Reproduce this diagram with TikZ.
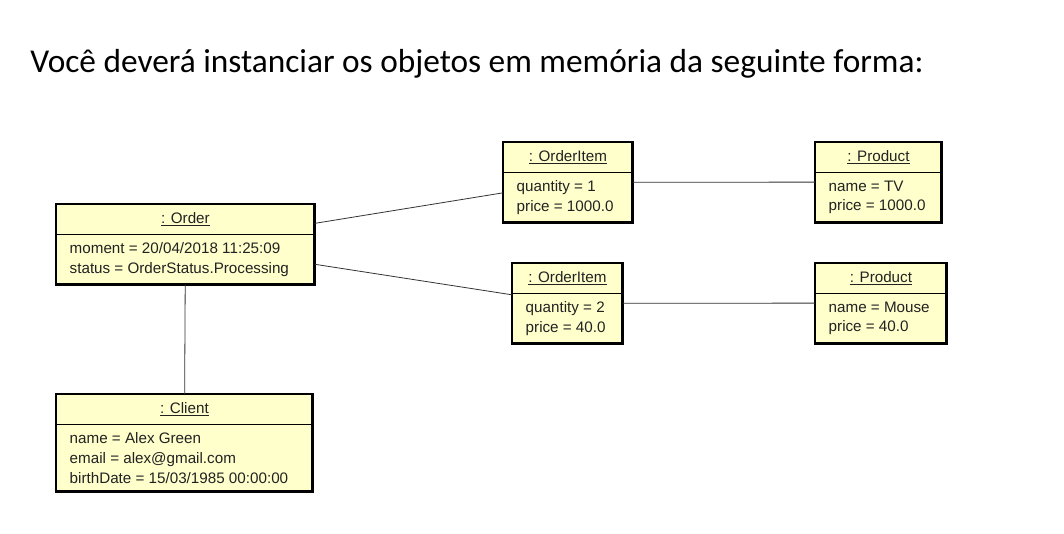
\documentclass[tikz,border=0pt]{standalone}
\usepackage{fontspec}
\setmainfont{Liberation Sans}
\newfontfamily\titlefont{Carlito}
\usetikzlibrary{shapes.multipart}

\definecolor{objfill}{HTML}{FFFFCC}
\definecolor{objtext}{HTML}{222222}

\tikzset{
  objbox/.style={rectangle split, rectangle split parts=2,
    rectangle split part align={center,left},
    draw, line width=0.6pt, fill=objfill, text=objtext,
    inner xsep=10pt, inner ysep=5.5pt, align=left, text depth=3pt,
    font=\fontsize{11.4}{14.8}\selectfont, anchor=north west},
  assoc/.style={draw=black!80, line width=0.6pt}
}

\begin{document}
\begin{tikzpicture}[x=0.75pt,y=-0.75pt]
\useasboundingbox[fill=white] (0,0) rectangle (1064,533);

% title
\node[anchor=base west, inner sep=0pt, font=\titlefont\fontsize{25}{30}\selectfont] (title) at (30,72)
  {Você deverá instanciar os objetos em memória da seguinte forma:};

% objects
\node[objbox, minimum width=193.5pt] (order) at (56,204)
  {\underline{: Order}\nodepart{two}moment = 20/04/2018 11:25:09\\status = OrderStatus.Processing};
\node[objbox, minimum width=192pt] (client) at (56,394)
  {\underline{: Client}\nodepart{two}name = Alex Green\\email = alex@gmail.com\\birthDate = 15/03/1985 00:00:00};
\node[objbox, minimum width=96.75pt] (item1) at (503,142)
  {\underline{: OrderItem}\nodepart{two}quantity = 1\\price = 1000.0};
\node[objbox, minimum width=82.5pt] (item2) at (512,263)
  {\underline{: OrderItem}\nodepart{two}quantity = 2\\price = 40.0};
\node[objbox, minimum width=94.5pt] (prod1) at (815,142)
  {\underline{: Product}\nodepart{two}name = TV\\price = 1000.0};
\node[objbox, minimum width=98.25pt] (prod2) at (815,263)
  {\underline{: Product}\nodepart{two}name = Mouse\\price = 40.0};

\foreach \n in {order,client,item1,item2,prod1,prod2}
  \draw[line width=2.2pt] (\n.north west) rectangle (\n.south east);

% links
\draw[assoc] (order) -- (item1);
\draw[assoc] (order) -- (item2);
\draw[assoc] (item1) -- (prod1);
\draw[assoc] (item2) -- (prod2);
\draw[assoc] (order) -- (client);
\end{tikzpicture}
\end{document}
